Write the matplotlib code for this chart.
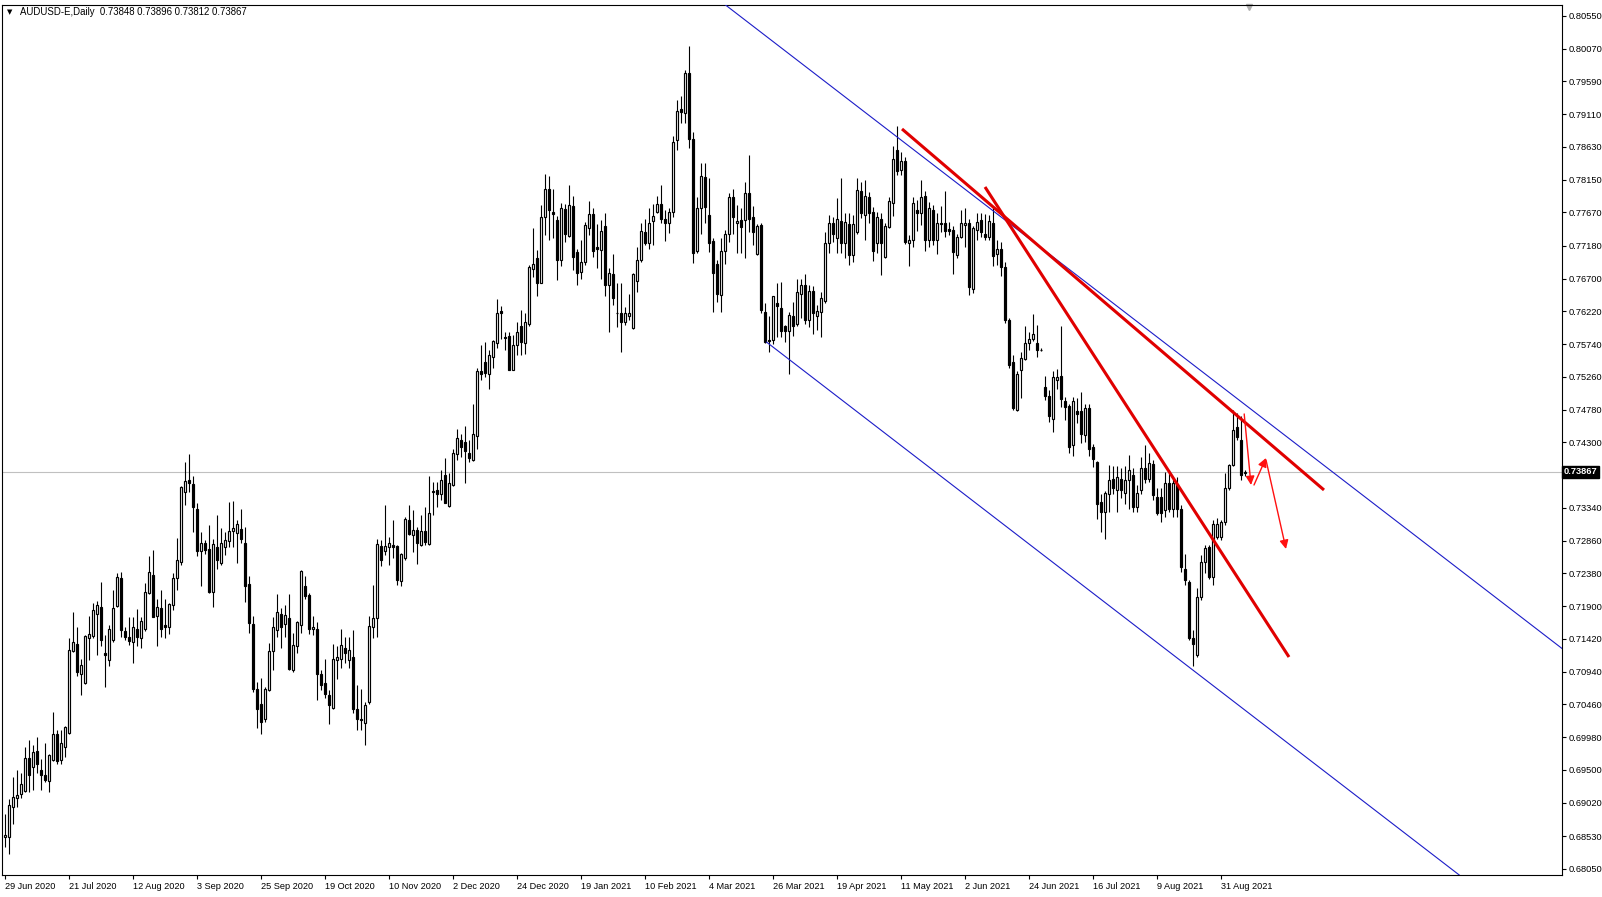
import matplotlib
matplotlib.use("Agg")
import matplotlib.pyplot as plt

plt.rcParams['font.family'] = ['Liberation Sans', 'DejaVu Sans']

# Daily AUDUSD candles, 29 Jun 2020 .. 8 Sep 2021
opens = [
    0.6851, 0.6852, 0.6896, 0.6909, 0.6915, 0.6919, 0.6968, 0.6954, 0.6978, 0.6950,
    0.6943, 0.6934, 0.6964, 0.7002, 0.6965, 0.6984, 0.7004, 0.7125, 0.7135, 0.7091,
    0.7077, 0.7143, 0.7146, 0.7179, 0.7189, 0.7121, 0.7111, 0.7140, 0.7190, 0.7231,
    0.7154, 0.7145, 0.7137, 0.7156, 0.7144, 0.7156, 0.7210, 0.7235, 0.7176, 0.7187,
    0.7163, 0.7160, 0.7191, 0.7231, 0.7255, 0.7357, 0.7375, 0.7369, 0.7333, 0.7271,
    0.7282, 0.7274, 0.7211, 0.7276, 0.7253, 0.7276, 0.7285, 0.7300, 0.7297, 0.7303,
    0.7283, 0.7223, 0.7164, 0.7068, 0.7046, 0.7025, 0.7067, 0.7125, 0.7155, 0.7178,
    0.7164, 0.7173, 0.7096, 0.7132, 0.7162, 0.7219, 0.7206, 0.7156, 0.7157, 0.7090,
    0.7077, 0.7060, 0.7041, 0.7111, 0.7112, 0.7128, 0.7111, 0.7115, 0.7040, 0.7025,
    0.7019, 0.7050, 0.7159, 0.7172, 0.7278, 0.7271, 0.7277, 0.7279, 0.7278, 0.7227,
    0.7260, 0.7316, 0.7294, 0.7301, 0.7279, 0.7300, 0.7281, 0.7359, 0.7360, 0.7355,
    0.7382, 0.7337, 0.7367, 0.7413, 0.7434, 0.7430, 0.7415, 0.7404, 0.7440, 0.7534,
    0.7548, 0.7531, 0.7555, 0.7575, 0.7622, 0.7585, 0.7586, 0.7536, 0.7573, 0.7600,
    0.7575, 0.7603, 0.7684, 0.7701, 0.7664, 0.7761, 0.7802, 0.7767, 0.7756, 0.7697,
    0.7772, 0.7732, 0.7776, 0.7709, 0.7680, 0.7695, 0.7744, 0.7765, 0.7717, 0.7712,
    0.7747, 0.7661, 0.7677, 0.7620, 0.7619, 0.7607, 0.7615, 0.7597, 0.7667, 0.7697,
    0.7738, 0.7722, 0.7754, 0.7767, 0.7780, 0.7757, 0.7751, 0.7768, 0.7873, 0.7919,
    0.7913, 0.7972, 0.7874, 0.7711, 0.7774, 0.7819, 0.7763, 0.7725, 0.7692, 0.7646,
    0.7710, 0.7735, 0.7789, 0.7751, 0.7756, 0.7756, 0.7796, 0.7760, 0.7706, 0.7748,
    0.7621, 0.7580, 0.7580, 0.7635, 0.7627, 0.7600, 0.7594, 0.7615, 0.7603, 0.7648,
    0.7661, 0.7610, 0.7652, 0.7615, 0.7621, 0.7638, 0.7723, 0.7751, 0.7730, 0.7754,
    0.7723, 0.7750, 0.7704, 0.7739, 0.7798, 0.7764, 0.7790, 0.7768, 0.7722, 0.7758,
    0.7702, 0.7746, 0.7781, 0.7859, 0.7829, 0.7842, 0.7722, 0.7727, 0.7771, 0.7766,
    0.7791, 0.7726, 0.7771, 0.7726, 0.7752, 0.7751, 0.7743, 0.7742, 0.7705, 0.7731,
    0.7748, 0.7752, 0.7655, 0.7741, 0.7756, 0.7736, 0.7731, 0.7752, 0.7706, 0.7713,
    0.7687, 0.7610, 0.7548, 0.7478, 0.7536, 0.7552, 0.7575, 0.7582, 0.7575, 0.7566,
    0.7511, 0.7498, 0.7465, 0.7521, 0.7527, 0.7491, 0.7483, 0.7426, 0.7476, 0.7476,
    0.7441, 0.7480, 0.7424, 0.7401, 0.7343, 0.7328, 0.7355, 0.7376, 0.7360, 0.7377,
    0.7356, 0.7375, 0.7382, 0.7336, 0.7360, 0.7392, 0.7377, 0.7399, 0.7350, 0.7350,
    0.7331, 0.7371, 0.7333, 0.7369, 0.7333, 0.7245, 0.7226, 0.7143, 0.7118, 0.7204,
    0.7255, 0.7277, 0.7233, 0.7292, 0.7292, 0.7314, 0.7363, 0.7397, 0.7453, 0.7434,
    0.73848,
]
highs = [
    0.6886, 0.6908, 0.6940, 0.6950, 0.6945, 0.6984, 0.6994, 0.6986, 0.6998, 0.6966,
    0.6990, 0.6974, 0.7035, 0.7008, 0.7008, 0.7014, 0.7144, 0.7182, 0.7160, 0.7113,
    0.7148, 0.7175, 0.7195, 0.7197, 0.7226, 0.7148, 0.7162, 0.7214, 0.7238, 0.7240,
    0.7160, 0.7174, 0.7174, 0.7186, 0.7174, 0.7224, 0.7263, 0.7273, 0.7200, 0.7214,
    0.7201, 0.7195, 0.7238, 0.7290, 0.7366, 0.7402, 0.7413, 0.7381, 0.7341, 0.7298,
    0.7287, 0.7309, 0.7288, 0.7323, 0.7304, 0.7299, 0.7343, 0.7344, 0.7316, 0.7333,
    0.7306, 0.7234, 0.7176, 0.7079, 0.7084, 0.7072, 0.7136, 0.7174, 0.7208, 0.7188,
    0.7192, 0.7208, 0.7150, 0.7169, 0.7243, 0.7234, 0.7209, 0.7175, 0.7167, 0.7096,
    0.7112, 0.7067, 0.7134, 0.7131, 0.7156, 0.7145, 0.7145, 0.7155, 0.7074, 0.7069,
    0.7050, 0.7175, 0.7221, 0.7289, 0.7287, 0.7339, 0.7291, 0.7317, 0.7280, 0.7268,
    0.7321, 0.7339, 0.7331, 0.7306, 0.7323, 0.7336, 0.7381, 0.7372, 0.7372, 0.7389,
    0.7407, 0.7385, 0.7421, 0.7449, 0.7443, 0.7454, 0.7434, 0.7486, 0.7539, 0.7573,
    0.7577, 0.7566, 0.7580, 0.7640, 0.7630, 0.7592, 0.7592, 0.7587, 0.7607, 0.7624,
    0.7619, 0.7690, 0.7744, 0.7712, 0.7778, 0.7824, 0.7820, 0.7801, 0.7762, 0.7781,
    0.7780, 0.7807, 0.7791, 0.7713, 0.7727, 0.7753, 0.7784, 0.7773, 0.7750, 0.7756,
    0.7766, 0.7685, 0.7706, 0.7663, 0.7664, 0.7629, 0.7648, 0.7678, 0.7717, 0.7752,
    0.7757, 0.7773, 0.7780, 0.7791, 0.7807, 0.7770, 0.7774, 0.7879, 0.7932, 0.7938,
    0.7976, 0.8011, 0.7885, 0.7790, 0.7839, 0.7840, 0.7817, 0.7730, 0.7697, 0.7729,
    0.7741, 0.7795, 0.7802, 0.7778, 0.7773, 0.7812, 0.7851, 0.7776, 0.7750, 0.7751,
    0.7635, 0.7615, 0.7645, 0.7664, 0.7665, 0.7602, 0.7621, 0.7636, 0.7669, 0.7669,
    0.7677, 0.7661, 0.7659, 0.7631, 0.7651, 0.7739, 0.7763, 0.7761, 0.7788, 0.7817,
    0.7766, 0.7766, 0.7763, 0.7817, 0.7812, 0.7814, 0.7797, 0.7775, 0.7768, 0.7766,
    0.7751, 0.7789, 0.7864, 0.7894, 0.7856, 0.7849, 0.7734, 0.7789, 0.7785, 0.7815,
    0.7799, 0.7783, 0.7778, 0.7766, 0.7777, 0.7799, 0.7753, 0.7747, 0.7736, 0.7771,
    0.7774, 0.7757, 0.7747, 0.7766, 0.7766, 0.7765, 0.7763, 0.7776, 0.7726, 0.7724,
    0.7695, 0.7612, 0.7558, 0.7534, 0.7563, 0.7600, 0.7592, 0.7618, 0.7602, 0.7569,
    0.7527, 0.7507, 0.7534, 0.7537, 0.7600, 0.7496, 0.7487, 0.7497, 0.7495, 0.7504,
    0.7486, 0.7487, 0.7428, 0.7403, 0.7355, 0.7359, 0.7397, 0.7396, 0.7396, 0.7392,
    0.7396, 0.7412, 0.7392, 0.7368, 0.7408, 0.7426, 0.7415, 0.7404, 0.7363, 0.7363,
    0.7387, 0.7390, 0.7377, 0.7380, 0.7338, 0.7267, 0.7228, 0.7155, 0.7216, 0.7265,
    0.7279, 0.7279, 0.7316, 0.7319, 0.7316, 0.7385, 0.7399, 0.7478, 0.7473, 0.7468,
    0.73896,
]
lows = [
    0.6837, 0.6827, 0.6871, 0.6896, 0.6909, 0.6918, 0.6917, 0.6920, 0.6945, 0.6920,
    0.6932, 0.6917, 0.6963, 0.6959, 0.6959, 0.6969, 0.7003, 0.7123, 0.7087, 0.7060,
    0.7076, 0.7111, 0.7144, 0.7118, 0.7131, 0.7072, 0.7102, 0.7138, 0.7189, 0.7145,
    0.7140, 0.7133, 0.7106, 0.7131, 0.7129, 0.7154, 0.7208, 0.7174, 0.7131, 0.7145,
    0.7144, 0.7149, 0.7185, 0.7214, 0.7251, 0.7339, 0.7358, 0.7299, 0.7263, 0.7220,
    0.7267, 0.7209, 0.7189, 0.7245, 0.7250, 0.7265, 0.7277, 0.7277, 0.7254, 0.7282,
    0.7196, 0.7151, 0.7064, 0.7012, 0.7002, 0.7020, 0.7066, 0.7097, 0.7145, 0.7128,
    0.7145, 0.7096, 0.7093, 0.7121, 0.7151, 0.7201, 0.7149, 0.7148, 0.7052, 0.7067,
    0.7055, 0.7017, 0.7040, 0.7083, 0.7099, 0.7106, 0.7099, 0.7033, 0.7009, 0.7008,
    0.6986, 0.7047, 0.7143, 0.7145, 0.7249, 0.7265, 0.7250, 0.7260, 0.7221, 0.7219,
    0.7258, 0.7295, 0.7270, 0.7252, 0.7278, 0.7279, 0.7279, 0.7323, 0.7335, 0.7345,
    0.7341, 0.7336, 0.7366, 0.7404, 0.7409, 0.7370, 0.7402, 0.7403, 0.7421, 0.7521,
    0.7526, 0.7508, 0.7539, 0.7568, 0.7582, 0.7565, 0.7536, 0.7536, 0.7558, 0.7558,
    0.7560, 0.7600, 0.7673, 0.7644, 0.7663, 0.7734, 0.7727, 0.7729, 0.7668, 0.7688,
    0.7724, 0.7731, 0.7683, 0.7661, 0.7670, 0.7690, 0.7734, 0.7702, 0.7685, 0.7670,
    0.7644, 0.7592, 0.7631, 0.7599, 0.7563, 0.7602, 0.7609, 0.7596, 0.7651, 0.7695,
    0.7719, 0.7714, 0.7719, 0.7766, 0.7751, 0.7725, 0.7737, 0.7761, 0.7859, 0.7898,
    0.7898, 0.7861, 0.7693, 0.7707, 0.7736, 0.7751, 0.7709, 0.7621, 0.7636, 0.7621,
    0.7692, 0.7724, 0.7735, 0.7708, 0.7707, 0.7700, 0.7739, 0.7719, 0.7705, 0.7619,
    0.7575, 0.7563, 0.7574, 0.7585, 0.7585, 0.7577, 0.7530, 0.7586, 0.7601, 0.7612,
    0.7603, 0.7599, 0.7589, 0.7595, 0.7585, 0.7635, 0.7708, 0.7724, 0.7707, 0.7708,
    0.7701, 0.7690, 0.7695, 0.7736, 0.7759, 0.7726, 0.7752, 0.7696, 0.7707, 0.7676,
    0.7700, 0.7744, 0.7762, 0.7822, 0.7822, 0.7721, 0.7688, 0.7717, 0.7740, 0.7749,
    0.7711, 0.7717, 0.7719, 0.7706, 0.7739, 0.7731, 0.7734, 0.7677, 0.7700, 0.7729,
    0.7716, 0.7646, 0.7649, 0.7727, 0.7731, 0.7727, 0.7726, 0.7689, 0.7690, 0.7674,
    0.7605, 0.7539, 0.7477, 0.7476, 0.7495, 0.7551, 0.7566, 0.7579, 0.7555, 0.7564,
    0.7492, 0.7460, 0.7446, 0.7509, 0.7482, 0.7463, 0.7414, 0.7410, 0.7458, 0.7429,
    0.7431, 0.7410, 0.7394, 0.7318, 0.7298, 0.7288, 0.7328, 0.7355, 0.7328, 0.7348,
    0.7340, 0.7333, 0.7328, 0.7328, 0.7355, 0.7370, 0.7372, 0.7346, 0.7324, 0.7314,
    0.7321, 0.7328, 0.7321, 0.7320, 0.7240, 0.7221, 0.7140, 0.7103, 0.7116, 0.7199,
    0.7238, 0.7230, 0.7221, 0.7289, 0.7287, 0.7309, 0.7360, 0.7395, 0.7434, 0.7375,
    0.73812,
]
closes = [
    0.6854, 0.6898, 0.6910, 0.6913, 0.6930, 0.6968, 0.6942, 0.6976, 0.6958, 0.6943,
    0.6935, 0.6972, 0.7003, 0.6963, 0.6990, 0.7013, 0.7126, 0.7138, 0.7094, 0.7104,
    0.7146, 0.7149, 0.7185, 0.7192, 0.7140, 0.7119, 0.7156, 0.7188, 0.7233, 0.7155,
    0.7145, 0.7139, 0.7159, 0.7145, 0.7168, 0.7211, 0.7240, 0.7174, 0.7189, 0.7157,
    0.7160, 0.7193, 0.7231, 0.7257, 0.7364, 0.7374, 0.7371, 0.7336, 0.7271, 0.7282,
    0.7273, 0.7211, 0.7281, 0.7258, 0.7282, 0.7287, 0.7300, 0.7304, 0.7310, 0.7289,
    0.7220, 0.7166, 0.7068, 0.7040, 0.7020, 0.7068, 0.7124, 0.7160, 0.7181, 0.7160,
    0.7177, 0.7098, 0.7133, 0.7167, 0.7241, 0.7205, 0.7157, 0.7160, 0.7090, 0.7075,
    0.7061, 0.7045, 0.7113, 0.7115, 0.7133, 0.7121, 0.7126, 0.7039, 0.7024, 0.7023,
    0.7045, 0.7161, 0.7173, 0.7281, 0.7258, 0.7278, 0.7282, 0.7277, 0.7229, 0.7266,
    0.7318, 0.7296, 0.7302, 0.7282, 0.7300, 0.7284, 0.7327, 0.7357, 0.7355, 0.7375,
    0.7341, 0.7371, 0.7415, 0.7436, 0.7423, 0.7418, 0.7407, 0.7443, 0.7535, 0.7531,
    0.7532, 0.7558, 0.7578, 0.7619, 0.7620, 0.7583, 0.7536, 0.7573, 0.7592, 0.7577,
    0.7606, 0.7687, 0.7692, 0.7664, 0.7760, 0.7802, 0.7771, 0.7765, 0.7697, 0.7774,
    0.7735, 0.7778, 0.7702, 0.7679, 0.7695, 0.7749, 0.7765, 0.7710, 0.7713, 0.7740,
    0.7661, 0.7678, 0.7642, 0.7619, 0.7607, 0.7619, 0.7620, 0.7677, 0.7697, 0.7740,
    0.7722, 0.7752, 0.7762, 0.7780, 0.7757, 0.7751, 0.7767, 0.7870, 0.7916, 0.7914,
    0.7972, 0.7874, 0.7708, 0.7773, 0.7820, 0.7775, 0.7723, 0.7679, 0.7648, 0.7711,
    0.7736, 0.7790, 0.7760, 0.7755, 0.7746, 0.7796, 0.7758, 0.7739, 0.7747, 0.7624,
    0.7577, 0.7578, 0.7644, 0.7630, 0.7594, 0.7594, 0.7617, 0.7600, 0.7650, 0.7661,
    0.7610, 0.7652, 0.7619, 0.7622, 0.7642, 0.7723, 0.7751, 0.7736, 0.7757, 0.7723,
    0.7753, 0.7704, 0.7750, 0.7800, 0.7766, 0.7791, 0.7766, 0.7711, 0.7761, 0.7722,
    0.7747, 0.7784, 0.7845, 0.7828, 0.7843, 0.7724, 0.7727, 0.7781, 0.7766, 0.7789,
    0.7726, 0.7774, 0.7726, 0.7752, 0.7750, 0.7740, 0.7740, 0.7709, 0.7731, 0.7752,
    0.7752, 0.7658, 0.7744, 0.7753, 0.7739, 0.7731, 0.7754, 0.7703, 0.7713, 0.7687,
    0.7609, 0.7543, 0.7480, 0.7531, 0.7553, 0.7575, 0.7582, 0.7589, 0.7566, 0.7566,
    0.7498, 0.7468, 0.7526, 0.7526, 0.7493, 0.7482, 0.7424, 0.7491, 0.7472, 0.7443,
    0.7480, 0.7420, 0.7406, 0.7340, 0.7328, 0.7356, 0.7375, 0.7363, 0.7380, 0.7361,
    0.7375, 0.7390, 0.7336, 0.7356, 0.7393, 0.7377, 0.7400, 0.7353, 0.7327, 0.7326,
    0.7371, 0.7333, 0.7370, 0.7332, 0.7248, 0.7228, 0.7143, 0.7135, 0.7203, 0.7255,
    0.7275, 0.7233, 0.7311, 0.7311, 0.7314, 0.7363, 0.7397, 0.7448, 0.7438, 0.7382,
    0.73867,
]

# date labels every 16 bars along the bottom
date_labels = ['29 Jun 2020', '21 Jul 2020', '12 Aug 2020', '3 Sep 2020', '25 Sep 2020',
               '19 Oct 2020', '10 Nov 2020', '2 Dec 2020', '24 Dec 2020', '19 Jan 2021',
               '10 Feb 2021', '4 Mar 2021', '26 Mar 2021', '19 Apr 2021', '11 May 2021',
               '2 Jun 2021', '24 Jun 2021', '16 Jul 2021', '9 Aug 2021', '31 Aug 2021']
price_ticks = [0.80550, 0.80070, 0.79590, 0.79110, 0.78630, 0.78150, 0.77670, 0.77180,
               0.76700, 0.76220, 0.75740, 0.75260, 0.74780, 0.74300, 0.73340, 0.72860,
               0.72380, 0.71900, 0.71420, 0.70940, 0.70460, 0.69980, 0.69500, 0.69020,
               0.68530, 0.68050]
last_price = 0.73867

# hand-drawn objects on the chart (bar index, price)
channel_upper = ([180.0, 389.25], [0.80717, 0.71280])
channel_lower = ([190.4, 366.0], [0.7577, 0.67850])
trend_1 = ([224.25, 329.75], [0.78894, 0.73603])
trend_2 = ([245.0, 321.0], [0.78044, 0.71155])
arrows = [((309.8, 0.74717), (311.5, 0.73676)),
          ((312.25, 0.73676), (315.25, 0.74072)),
          ((315.25, 0.74043), (320.25, 0.72738))]

W, H = 1602, 897
fig = plt.figure(figsize=(W / 100, H / 100), dpi=100)
fig.patch.set_facecolor('white')
ax = fig.add_axes([2 / W, 1 - 875 / H, 1560 / W, 870 / H])
ax.set_facecolor('white')

n = len(closes)
idx = list(range(n))

# current bid line
ax.axhline(last_price, color='#c0c0c0', lw=0.8, zorder=1)

# wicks, then bodies on top
ax.vlines(idx, lows, highs, color='black', lw=0.8, zorder=2)
bottoms = [min(o, c) for o, c in zip(opens, closes)]
heights = [abs(c - o) for o, c in zip(opens, closes)]
faces = ['white' if c >= o else 'black' for o, c in zip(opens, closes)]
ax.bar(idx, heights, bottom=bottoms, width=0.55, color=faces,
       edgecolor='black', linewidth=0.85, zorder=3)

# channel and trend lines
ax.plot(*channel_upper, color='#1c1cc8', lw=0.8, zorder=4)
ax.plot(*channel_lower, color='#1c1cc8', lw=0.8, zorder=4)
ax.plot(*trend_1, color='#e00000', lw=2.2, zorder=5, solid_capstyle='butt')
ax.plot(*trend_2, color='#e00000', lw=2.2, zorder=5, solid_capstyle='butt')
for start, end in arrows:
    ax.annotate('', xy=end, xytext=start,
                arrowprops=dict(arrowstyle='-|>', color='#ff1010', lw=1.0,
                                mutation_scale=13, shrinkA=0, shrinkB=0),
                zorder=6)

ax.set_xlim(-0.75, 389.25)
ax.set_ylim(0.67960, 0.80711)

# price axis on the right
ax.yaxis.tick_right()
ax.set_yticks(price_ticks)
ax.set_yticklabels(['%.5f' % p for p in price_ticks])
ax.tick_params(axis='y', direction='out', length=3, width=0.8, pad=1.5,
               labelsize=6.7, colors='black')
ax.text(1.0012, last_price, '%.5f' % last_price, transform=ax.get_yaxis_transform(),
        ha='left', va='center', color='white', fontsize=6.7, fontweight='bold',
        bbox=dict(boxstyle='square,pad=0.2', facecolor='black', edgecolor='black'),
        clip_on=False)

# date axis
ax.set_xticks(list(range(0, 16 * len(date_labels), 16)))
ax.set_xticklabels(date_labels, ha='left')
ax.tick_params(axis='x', direction='out', length=3, width=0.8, pad=2,
               labelsize=6.6, colors='black')

for s in ax.spines.values():
    s.set_color('black')
    s.set_linewidth(0.8)

# chart shift marker
ax.plot([311], [0.8068], marker='v', color='#b0b0b0', markersize=5, clip_on=False)

# header
fig.text(7 / W, 1 - 12 / H, '\u25bc', fontsize=5, va='center', ha='left',
         family=['DejaVu Sans'])
fig.text(20 / W, 1 - 12 / H, 'AUDUSD-E,Daily  0.73848 0.73896 0.73812 0.73867',
         fontsize=6.9, va='center', ha='left')

plt.savefig('out.png', dpi=100)
